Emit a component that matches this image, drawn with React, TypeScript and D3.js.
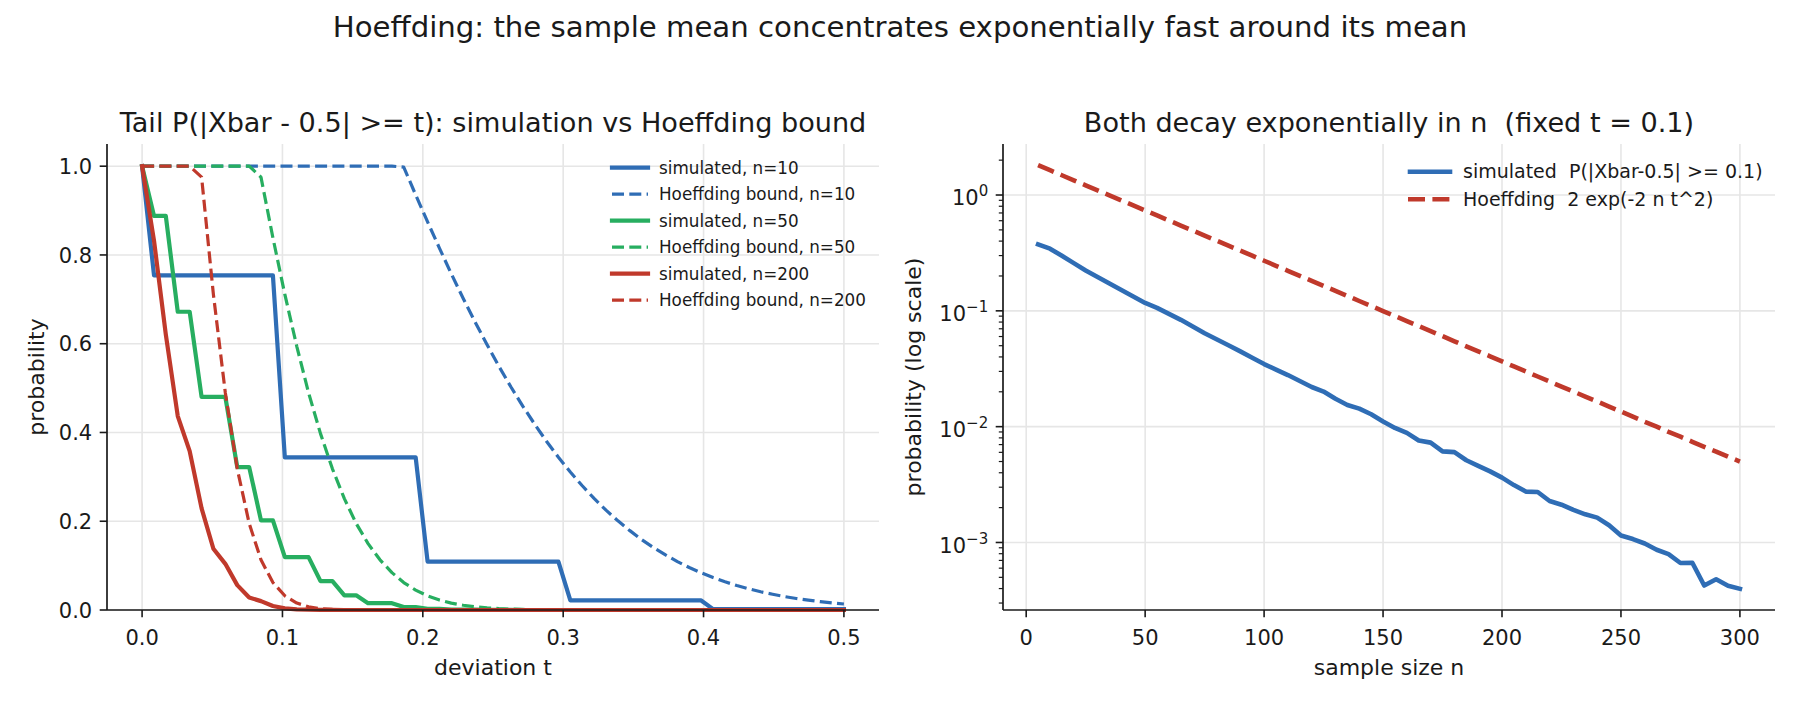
import React from 'react';
import * as d3 from 'd3';

// deviation grid t (60 points from 0 to 0.5)
const tGrid = [
  0, 0.0085, 0.0169, 0.0254, 0.0339, 0.0424, 0.0508, 0.0593, 0.0678, 0.0763,
  0.0847, 0.0932, 0.1017, 0.1102, 0.1186, 0.1271, 0.1356, 0.1441, 0.1525, 0.161,
  0.1695, 0.178, 0.1864, 0.1949, 0.2034, 0.2119, 0.2203, 0.2288, 0.2373, 0.2458,
  0.2542, 0.2627, 0.2712, 0.2797, 0.2881, 0.2966, 0.3051, 0.3136, 0.322, 0.3305,
  0.339, 0.3475, 0.3559, 0.3644, 0.3729, 0.3814, 0.3898, 0.3983, 0.4068, 0.4153,
  0.4237, 0.4322, 0.4407, 0.4492, 0.4576, 0.4661, 0.4746, 0.4831, 0.4915, 0.5,
];

const simN10 = [
  1, 0.754, 0.754, 0.754, 0.754, 0.754, 0.754, 0.754, 0.754, 0.754,
  0.754, 0.754, 0.344, 0.344, 0.344, 0.344, 0.344, 0.344, 0.344, 0.344,
  0.344, 0.344, 0.344, 0.344, 0.109, 0.109, 0.109, 0.109, 0.109, 0.109,
  0.109, 0.109, 0.109, 0.109, 0.109, 0.109, 0.0215, 0.0215, 0.0215, 0.0215,
  0.0215, 0.0215, 0.0215, 0.0215, 0.0215, 0.0215, 0.0215, 0.0215, 0.002, 0.002,
  0.002, 0.002, 0.002, 0.002, 0.002, 0.002, 0.002, 0.002, 0.002, 0.002,
];
const boundN10 = [
  1, 1, 1, 1, 1, 1, 1, 1, 1, 1,
  1, 1, 1, 1, 1, 1, 1, 1, 1, 1,
  1, 1, 0.998, 0.9355, 0.8744, 0.815, 0.7574, 0.7019, 0.6486, 0.5976,
  0.5491, 0.503, 0.4595, 0.4185, 0.3801, 0.3443, 0.3109, 0.2799, 0.2514, 0.225,
  0.2009, 0.1788, 0.1587, 0.1405, 0.124, 0.1091, 0.0957, 0.0838, 0.0731, 0.0636,
  0.0551, 0.0477, 0.0411, 0.0354, 0.0303, 0.0259, 0.0221, 0.0188, 0.0159, 0.0135,
];
const simN50 = [
  1, 0.888, 0.888, 0.672, 0.672, 0.48, 0.48, 0.48, 0.322, 0.322,
  0.202, 0.202, 0.119, 0.119, 0.119, 0.065, 0.065, 0.033, 0.033, 0.0153,
  0.0153, 0.0153, 0.0066, 0.0066, 0.0026, 0.0026, 0.0009, 0.0009, 0.0009, 0.0003,
  0.0003, 0.0003, 0, 0, 0, 0, 0, 0, 0, 0,
  0, 0, 0, 0, 0, 0, 0, 0, 0, 0,
  0, 0, 0, 0, 0, 0, 0, 0, 0, 0,
];
const boundN50 = [
  1, 1, 1, 1, 1, 1, 1, 1, 1, 1,
  0.9753, 0.8388, 0.7111, 0.5942, 0.4895, 0.3974, 0.3181, 0.251, 0.1952, 0.1496,
  0.1131, 0.0842, 0.0619, 0.0448, 0.032, 0.0225, 0.0156, 0.0107, 0.0072, 0.0048,
  0.0031, 0.002, 0.0013, 0.0008, 0.0005, 0.0003, 0.0002, 0.0001, 0, 0,
  0, 0, 0, 0, 0, 0, 0, 0, 0, 0,
  0, 0, 0, 0, 0, 0, 0, 0, 0, 0,
];
const simN200 = [
  1, 0.832, 0.621, 0.437, 0.358, 0.229, 0.138, 0.104, 0.056, 0.028,
  0.02, 0.009, 0.0037, 0.0015, 0.0009, 0.0003, 0.0001, 0, 0, 0,
  0, 0, 0, 0, 0, 0, 0, 0, 0, 0,
  0, 0, 0, 0, 0, 0, 0, 0, 0, 0,
  0, 0, 0, 0, 0, 0, 0, 0, 0, 0,
  0, 0, 0, 0, 0, 0, 0, 0, 0, 0,
];
const boundN200 = [
  1, 1, 1, 1, 1, 0.9753, 0.7111, 0.4895, 0.3181, 0.1952,
  0.1131, 0.0619, 0.032, 0.0156, 0.0072, 0.0031, 0.0013, 0.0005, 0.0002, 0.0001,
  0, 0, 0, 0, 0, 0, 0, 0, 0, 0,
  0, 0, 0, 0, 0, 0, 0, 0, 0, 0,
  0, 0, 0, 0, 0, 0, 0, 0, 0, 0,
  0, 0, 0, 0, 0, 0, 0, 0, 0, 0,
];

// sample sizes for the right panel
const nGrid = [
  5, 10, 15, 20, 25, 30, 35, 40, 45, 50, 55, 60, 65, 70, 75, 80, 85, 90, 95, 100,
  105, 110, 115, 120, 125, 130, 135, 140, 145, 150, 155, 160, 165, 170, 175, 180, 185, 190, 195, 200,
  205, 210, 215, 220, 225, 230, 235, 240, 245, 250, 255, 260, 265, 270, 275, 280, 285, 290, 295, 300,
];
const simRight = [
  0.375, 0.344, 0.299, 0.258, 0.223, 0.196, 0.172, 0.151, 0.133, 0.117,
  0.106, 0.0942, 0.0836, 0.0733, 0.064, 0.0568, 0.0504, 0.0447, 0.0394, 0.0347,
  0.0311, 0.0279, 0.0248, 0.022, 0.0201, 0.0174, 0.0154, 0.0143, 0.0128, 0.0111,
  0.00975, 0.00883, 0.0076, 0.00728, 0.00612, 0.00603, 0.00513, 0.00459, 0.00411, 0.00363,
  0.00313, 0.00275, 0.00273, 0.00228, 0.00212, 0.00191, 0.00175, 0.00164, 0.00141, 0.00115,
  0.00107, 0.00098, 0.000865, 0.000794, 0.000665, 0.000668, 0.000425, 0.000481, 0.000423, 0.000398,
];
const hoeffRight = [
  1.8097, 1.6375, 1.4816, 1.3406, 1.2131, 1.0976, 0.9932, 0.8987, 0.8131, 0.7358,
  0.6657, 0.6024, 0.5451, 0.4932, 0.4463, 0.4038, 0.3654, 0.3306, 0.2991, 0.2707,
  0.2449, 0.2216, 0.2005, 0.1814, 0.1642, 0.1486, 0.1344, 0.1216, 0.1101, 0.0996,
  0.0901, 0.0815, 0.0738, 0.0668, 0.0604, 0.0546, 0.0494, 0.0447, 0.0405, 0.0366,
  0.0331, 0.03, 0.0271, 0.0245, 0.0222, 0.0201, 0.0182, 0.0165, 0.0149, 0.0135,
  0.0122, 0.011, 0.01, 0.009, 0.0082, 0.0074, 0.0067, 0.0061, 0.0055, 0.005,
];

const leftXTicks = [0, 0.1, 0.2, 0.3, 0.4, 0.5];
const leftYTicks = [0, 0.2, 0.4, 0.6, 0.8, 1.0];
const rightXTicks = [0, 50, 100, 150, 200, 250, 300];
const rightYExps = [0, -1, -2, -3];

const BLUE = '#2f6db5';
const GREEN = '#27ae60';
const RED = '#c0392b';
const FONT = '"DejaVu Sans", sans-serif';
const INK = '#1a1a1a';
const GRID = '#e6e6e6';

const leftSeries = [
  { label: 'simulated, n=10', values: simN10, color: BLUE, dashed: false },
  { label: 'Hoeffding bound, n=10', values: boundN10, color: BLUE, dashed: true },
  { label: 'simulated, n=50', values: simN50, color: GREEN, dashed: false },
  { label: 'Hoeffding bound, n=50', values: boundN50, color: GREEN, dashed: true },
  { label: 'simulated, n=200', values: simN200, color: RED, dashed: false },
  { label: 'Hoeffding bound, n=200', values: boundN200, color: RED, dashed: true },
];

const L = { x0: 107, x1: 879, y0: 144, y1: 610 };
const R = { x0: 1003, x1: 1775, y0: 144, y1: 610 };
const TICK = 7.3;
const TITLE_SIZE = 27.1;

export default function App() {
  const xL = d3.scaleLinear().domain([-0.025, 0.525]).range([L.x0, L.x1]);
  const yL = d3.scaleLinear().domain([0, 1.05]).range([L.y1, L.y0]);

  const xR = d3.scaleLinear().domain([-9.75, 314.75]).range([R.x0, R.x1]);
  const all = [...simRight, ...hoeffRight];
  const la = Math.log10(d3.min(all)!);
  const lb = Math.log10(d3.max(all)!);
  const pad = (lb - la) * 0.05;
  const yR = d3.scaleLog().domain([10 ** (la - pad), 10 ** (lb + pad)]).range([R.y1, R.y0]);
  const [lo, hi] = yR.domain();
  const minor: number[] = [];
  for (let e = -4; e <= 0; e++) {
    for (let m = 2; m <= 9; m++) {
      const v = m * 10 ** e;
      if (v >= lo && v <= hi) minor.push(v);
    }
  }

  const lineL = d3.line<number>().x((_, i) => xL(tGrid[i])).y(d => yL(d));
  const lineR = d3.line<number>().x((_, i) => xR(nGrid[i])).y(d => yR(d));

  return (
    <svg width={1800} height={705} style={{ position: 'absolute', left: 0, top: 0, background: '#fff' }}
      fontFamily={FONT}>
      <text x={900} y={36.5} textAnchor="middle" fontSize={29.2} fill={INK}>
        Hoeffding: the sample mean concentrates exponentially fast around its mean
      </text>

      {/* ---------- left panel ---------- */}
      <g>
        {leftXTicks.map(t => (
          <line key={'gx' + t} x1={xL(t)} x2={xL(t)} y1={L.y0} y2={L.y1} stroke={GRID} strokeWidth={1.6} />
        ))}
        {leftYTicks.map(t => (
          <line key={'gy' + t} x1={L.x0} x2={L.x1} y1={yL(t)} y2={yL(t)} stroke={GRID} strokeWidth={1.6} />
        ))}
        {leftSeries.map(s => (
          <path key={s.label} d={lineL(s.values)!} fill="none" stroke={s.color}
            strokeWidth={s.dashed ? 3.2 : 4.2}
            strokeDasharray={s.dashed ? '12,5.3' : undefined}
            strokeLinecap={s.dashed ? 'butt' : 'square'} strokeLinejoin="round" />
        ))}
        <line x1={L.x0} x2={L.x0} y1={L.y0} y2={L.y1} stroke={INK} strokeWidth={1.7} />
        <line x1={L.x0} x2={L.x1} y1={L.y1} y2={L.y1} stroke={INK} strokeWidth={1.7} />
        {leftXTicks.map(t => (
          <g key={'tx' + t}>
            <line x1={xL(t)} x2={xL(t)} y1={L.y1} y2={L.y1 + TICK} stroke={INK} strokeWidth={1.6} />
            <text x={xL(t)} y={645} textAnchor="middle" fontSize={21} fill={INK}>{t.toFixed(1)}</text>
          </g>
        ))}
        {leftYTicks.map(t => (
          <g key={'ty' + t}>
            <line x1={L.x0 - TICK} x2={L.x0} y1={yL(t)} y2={yL(t)} stroke={INK} strokeWidth={1.6} />
            <text x={L.x0 - TICK - 7.5} y={yL(t) + 7.6} textAnchor="end" fontSize={21} fill={INK}>{t.toFixed(1)}</text>
          </g>
        ))}
        <text x={(L.x0 + L.x1) / 2} y={131.5} textAnchor="middle" fontSize={TITLE_SIZE} fill={INK}>
          Tail P(|Xbar - 0.5| &gt;= t): simulation vs Hoeffding bound
        </text>
        <text x={(L.x0 + L.x1) / 2} y={675} textAnchor="middle" fontSize={22} fill={INK}>deviation t</text>
        <text transform={`translate(44,${(L.y0 + L.y1) / 2}) rotate(-90)`} textAnchor="middle" fontSize={22} fill={INK}>
          probability
        </text>
        {leftSeries.map((s, i) => {
          const cy = 167.7 + i * 26.5;
          return (
            <g key={'lg' + s.label}>
              <line x1={612} x2={648} y1={cy} y2={cy} stroke={s.color}
                strokeWidth={s.dashed ? 3.2 : 4.2}
                strokeDasharray={s.dashed ? '12,5.3' : undefined}
                strokeLinecap={s.dashed ? 'butt' : 'square'} />
              <text x={659} y={cy + 5.8} fontSize={16.8} fill={INK}>{s.label}</text>
            </g>
          );
        })}
      </g>

      {/* ---------- right panel ---------- */}
      <g>
        {rightXTicks.map(t => (
          <line key={'rgx' + t} x1={xR(t)} x2={xR(t)} y1={R.y0} y2={R.y1} stroke={GRID} strokeWidth={1.6} />
        ))}
        {rightYExps.map(e => (
          <line key={'rgy' + e} x1={R.x0} x2={R.x1} y1={yR(10 ** e)} y2={yR(10 ** e)} stroke={GRID} strokeWidth={1.6} />
        ))}
        <path d={lineR(simRight)!} fill="none" stroke={BLUE} strokeWidth={4.6}
          strokeLinecap="square" strokeLinejoin="round" />
        <path d={lineR(hoeffRight)!} fill="none" stroke={RED} strokeWidth={4.6}
          strokeDasharray="17,7.4" strokeLinecap="butt" strokeLinejoin="round" />
        <line x1={R.x0} x2={R.x0} y1={R.y0} y2={R.y1} stroke={INK} strokeWidth={1.7} />
        <line x1={R.x0} x2={R.x1} y1={R.y1} y2={R.y1} stroke={INK} strokeWidth={1.7} />
        {rightXTicks.map(t => (
          <g key={'rtx' + t}>
            <line x1={xR(t)} x2={xR(t)} y1={R.y1} y2={R.y1 + TICK} stroke={INK} strokeWidth={1.6} />
            <text x={xR(t)} y={645} textAnchor="middle" fontSize={21} fill={INK}>{t}</text>
          </g>
        ))}
        {minor.map(v => (
          <line key={'mn' + v} x1={R.x0 - 4.2} x2={R.x0} y1={yR(v)} y2={yR(v)} stroke={INK} strokeWidth={1.2} />
        ))}
        {rightYExps.map(e => (
          <g key={'rty' + e}>
            <line x1={R.x0 - TICK} x2={R.x0} y1={yR(10 ** e)} y2={yR(10 ** e)} stroke={INK} strokeWidth={1.6} />
            <text x={R.x0 - TICK - 7.5} y={yR(10 ** e) + 10.3} textAnchor="end" fontSize={21} fill={INK}>
              10<tspan dy={-9} fontSize={15}>{e === 0 ? '0' : '\u2212' + Math.abs(e)}</tspan>
            </text>
          </g>
        ))}
        <text x={(R.x0 + R.x1) / 2} y={131.5} textAnchor="middle" fontSize={TITLE_SIZE} fill={INK} style={{ whiteSpace: 'pre' }}>
          {'Both decay exponentially in n  (fixed t = 0.1)'}
        </text>
        <text x={(R.x0 + R.x1) / 2} y={675} textAnchor="middle" fontSize={22} fill={INK}>sample size n</text>
        <text transform={`translate(921,${(R.y0 + R.y1) / 2}) rotate(-90)`} textAnchor="middle" fontSize={22} fill={INK}>
          probability (log scale)
        </text>
        <line x1={1410} x2={1450} y1={171.7} y2={171.7} stroke={BLUE} strokeWidth={4.6} strokeLinecap="square" />
        <text x={1463} y={178.3} fontSize={19} fill={INK} style={{ whiteSpace: 'pre' }}>
          {'simulated  P(|Xbar-0.5| >= 0.1)'}
        </text>
        <line x1={1408} x2={1451} y1={199.3} y2={199.3} stroke={RED} strokeWidth={4.6} strokeDasharray="17,7.4" />
        <text x={1463} y={205.9} fontSize={19} fill={INK} style={{ whiteSpace: 'pre' }}>
          {'Hoeffding  2 exp(-2 n t^2)'}
        </text>
      </g>
    </svg>
  );
}
